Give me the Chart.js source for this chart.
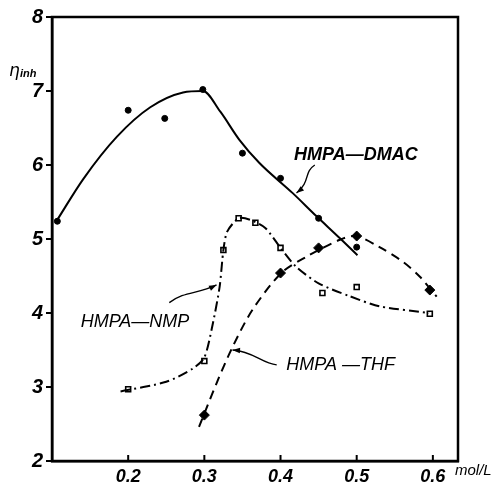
<!DOCTYPE html>
<html>
<head>
<meta charset="utf-8">
<script src="https://cdn.jsdelivr.net/npm/chart.js@4/dist/chart.umd.min.js"></script>
<style>
  html, body { margin: 0; padding: 0; background: #fff; }
  #wrap { width: 502px; height: 483px; }
</style>
</head>
<body>
<div id="wrap"><canvas id="chart"></canvas></div>
<script>
// measured points (mol/L, eta inh)
const dmacX = [0.107, 0.2, 0.248, 0.298, 0.35, 0.4, 0.45, 0.5];
const dmacY = [5.24, 6.74, 6.63, 7.02, 6.16, 5.82, 5.28, 4.89];
const nmpX = [0.2, 0.3, 0.325, 0.345, 0.367, 0.4, 0.455, 0.5, 0.596];
const nmpY = [2.97, 3.35, 4.85, 5.28, 5.22, 4.88, 4.27, 4.35, 3.99];
const thfX = [0.3, 0.4, 0.45, 0.5, 0.596];
const thfY = [2.62, 4.54, 4.88, 5.04, 4.31];

// hand drawn curves
const dmacCurveX = [0.107, 0.141, 0.185, 0.229, 0.272, 0.298, 0.321, 0.346, 0.372, 0.416, 0.447, 0.478, 0.501];
const dmacCurveY = [5.26, 5.81, 6.38, 6.78, 6.98, 7.0, 6.72, 6.34, 6.03, 5.62, 5.31, 5.01, 4.78];
const nmpCurveX = [0.19, 0.25, 0.285, 0.3, 0.31, 0.32, 0.325, 0.33, 0.345, 0.36, 0.38, 0.4, 0.42, 0.45, 0.49, 0.53, 0.595];
const nmpCurveY = [2.94, 3.07, 3.25, 3.40, 3.80, 4.35, 4.85, 5.10, 5.28, 5.26, 5.15, 4.88, 4.63, 4.40, 4.23, 4.09, 4.00];
const thfCurveX = [0.293, 0.316, 0.337, 0.363, 0.401, 0.434, 0.478, 0.499, 0.53, 0.561, 0.583, 0.605];
const thfCurveY = [2.46, 3.05, 3.54, 4.04, 4.54, 4.76, 4.99, 5.04, 4.89, 4.69, 4.49, 4.22];

const xTicks = [0.2, 0.3, 0.4, 0.5, 0.6];
const xTickLabels = ['0.2', '0.3', '0.4', '0.5', '0.6'];
const yTicks = [2, 3, 4, 5, 6, 7, 8];

function pts(xs, ys) {
    return xs.map((x, i) => ({ x: x, y: ys[i] }));
}

function curve(xs, ys, dash, tension, mode) {
    return {
        data: pts(xs, ys),
        borderColor: '#000',
        borderWidth: 2,
        borderDash: dash,
        pointRadius: 0,
        showLine: true,
        tension: tension,
        cubicInterpolationMode: mode || 'default',
        fill: false
    };
}

function marks(xs, ys, style, radius, filled) {
    return {
        data: pts(xs, ys),
        showLine: false,
        pointStyle: style,
        pointRadius: radius,
        pointBorderWidth: filled ? 1 : 1.6,
        pointBorderColor: '#000',
        pointBackgroundColor: filled ? '#000' : '#fff'
    };
}

// labels with leader arrows, in data units
const notes = [
    { text: 'HMPA\u2014DMAC', x: 0.499, y: 6.14, font: 'bold italic 18px "Liberation Sans"',
      leader: [[0.445, 6.0], [0.43, 5.9], [0.44, 5.78], [0.421, 5.62]] },
    { text: 'HMPA\u2014NMP', x: 0.209, y: 3.88, font: 'italic 18px "Liberation Sans"',
      leader: [[0.254, 4.14], [0.275, 4.3], [0.29, 4.25], [0.316, 4.38]] },
    { text: 'HMPA \u2014THF', x: 0.479, y: 3.30, font: 'italic 18px "Liberation Sans"',
      leader: [[0.395, 3.30], [0.375, 3.32], [0.365, 3.48], [0.337, 3.50]] }
];

const extras = {
    id: 'extras',
    afterDatasetsDraw(chart) {
        const ctx = chart.ctx;
        const a = chart.chartArea;
        const xs = chart.scales.x, ys = chart.scales.y;
        ctx.save();
        // frame
        ctx.strokeStyle = '#000';
        ctx.lineWidth = 2.5;
        ctx.strokeRect(a.left, a.top, a.right - a.left, a.bottom - a.top);
        // inward x ticks
        ctx.lineWidth = 2;
        xTicks.forEach(v => {
            const px = xs.getPixelForValue(v);
            ctx.beginPath();
            ctx.moveTo(px, a.bottom);
            ctx.lineTo(px, a.bottom - 6);
            ctx.stroke();
        });
        // notes
        ctx.fillStyle = '#000';
        ctx.textAlign = 'center';
        ctx.textBaseline = 'middle';
        notes.forEach(n => {
            ctx.font = n.font;
            ctx.fillText(n.text, xs.getPixelForValue(n.x), ys.getPixelForValue(n.y));
            const p = n.leader.map(q => [xs.getPixelForValue(q[0]), ys.getPixelForValue(q[1])]);
            ctx.lineWidth = 1.3;
            ctx.beginPath();
            ctx.moveTo(p[0][0], p[0][1]);
            ctx.bezierCurveTo(p[1][0], p[1][1], p[2][0], p[2][1], p[3][0], p[3][1]);
            ctx.stroke();
            // arrow head
            const ang = Math.atan2(p[3][1] - p[2][1], p[3][0] - p[2][0]);
            ctx.beginPath();
            ctx.moveTo(p[3][0], p[3][1]);
            ctx.lineTo(p[3][0] - 8 * Math.cos(ang - 0.35), p[3][1] - 8 * Math.sin(ang - 0.35));
            ctx.lineTo(p[3][0] - 8 * Math.cos(ang + 0.35), p[3][1] - 8 * Math.sin(ang + 0.35));
            ctx.closePath();
            ctx.fill();
        });
        // axis titles
        ctx.textAlign = 'left';
        ctx.font = 'italic 17px "DejaVu Sans"';
        ctx.fillText('\u03b7', 9, 72);
        ctx.font = 'bold italic 11px "Liberation Sans"';
        ctx.fillText('inh', 20, 74);
        ctx.font = 'italic 15px "Liberation Sans"';
        ctx.fillText('mol/L', 455, 471);
        ctx.restore();
    }
};

new Chart(document.getElementById('chart').getContext('2d'), {
    type: 'scatter',
    data: {
        datasets: [
            curve(dmacCurveX, dmacCurveY, [], 0.4, 'monotone'),
            curve(nmpCurveX, nmpCurveY, [10, 4, 2, 4], 0.25),
            curve(thfCurveX, thfCurveY, [9, 6], 0.3),
            marks(dmacX, dmacY, 'circle', 3, true),
            marks(nmpX, nmpY, 'rect', 3.5, false),
            marks(thfX, thfY, 'rectRot', 5, true)
        ]
    },
    options: {
        responsive: true,
        maintainAspectRatio: false,
        animation: false,
        layout: { padding: { top: 17, right: 44, left: 0, bottom: 0 } },
        plugins: {
            legend: { display: false },
            tooltip: { enabled: false }
        },
        scales: {
            x: {
                type: 'linear',
                min: 0.1,
                max: 0.633,
                afterBuildTicks: s => { s.ticks = xTicks.map(v => ({ value: v })); },
                afterFit: s => { s.height = 22; },
                grid: { display: false, drawTicks: false },
                border: { color: '#000', width: 2.5 },
                ticks: {
                    padding: 5,
                    color: '#000',
                    font: { family: 'Liberation Sans', size: 18, style: 'italic', weight: 'bold' },
                    callback: (v, i) => xTickLabels[i]
                }
            },
            y: {
                min: 2,
                max: 8,
                afterBuildTicks: s => { s.ticks = yTicks.map(v => ({ value: v })); },
                afterFit: s => { s.width = 52; },
                grid: { drawOnChartArea: false, tickLength: 6, color: '#000', lineWidth: 2 },
                border: { color: '#000', width: 2.5 },
                ticks: {
                    padding: 3,
                    color: '#000',
                    font: { family: 'Liberation Sans', size: 20, style: 'italic', weight: 'bold' }
                }
            }
        }
    },
    plugins: [extras]
});
</script>
</body>
</html>
